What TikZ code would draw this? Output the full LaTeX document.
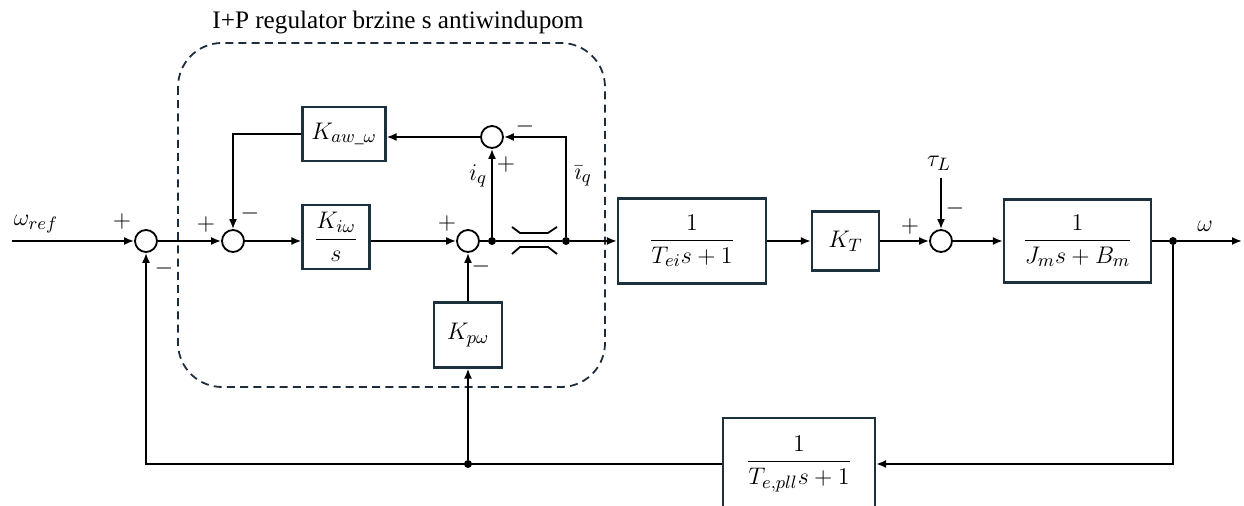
\documentclass[tikz,border=0pt]{standalone}
\usepackage{fontspec}
\setmainfont{Liberation Serif}
\usepackage{amsmath}
\usetikzlibrary{arrows.meta,calc}
\definecolor{boxc}{RGB}{28,48,62}
\definecolor{dashc}{RGB}{30,45,62}
\begin{document}
\begin{tikzpicture}[x=0.5pt,y=-0.5pt,
  blk/.style={draw=boxc, line width=1.1pt, fill=white, inner sep=0pt, font=\fontsize{12.5}{14}\selectfont},
  sumc/.style={circle, draw, line width=0.9pt, minimum size=11pt, inner sep=0pt},
  jdot/.style={circle, fill, inner sep=0pt, minimum size=4pt},
  conn/.style={line width=0.9pt},
  arr/.style={conn, -{Latex[length=5pt,width=4pt]}},
  sgn/.style={font=\fontsize{12}{14}\selectfont, inner sep=0pt},
  lbl/.style={font=\fontsize{13}{15}\selectfont, inner sep=0pt},
  regbox/.style={draw=dashc, line width=0.9pt, dash pattern=on 4pt off 2.6pt, rounded corners=22pt}]
\useasboundingbox (0,0) rectangle (1244,506);
\clip (0,0) rectangle (1244,506);

% regulator frame
\draw[regbox] (178,43) rectangle (605,387);
\node[font=\fontsize{12.6}{14}\selectfont, inner sep=0pt] (title) at (398,22) {I+P regulator brzine s antiwindupom};

% blocks
\node[blk, minimum width=41.5pt, minimum height=27pt] (kaw) at (344,134) {$K_{aw\_\omega}$};
\node[blk, minimum width=33.5pt, minimum height=32pt] (ki) at (336,237) {$\dfrac{K_{i\omega}}{s}$};
\node[blk, minimum width=34pt, minimum height=32.5pt] (kp) at (468,335) {$K_{p\omega}$};
\node[blk, minimum width=74pt, minimum height=42.5pt] (tei) at (692,241) {$\dfrac{1}{T_{ei}s+1}$};
\node[blk, minimum width=33.5pt, minimum height=29.5pt] (kt) at (845.5,241) {$K_T$};
\node[blk, minimum width=73.5pt, minimum height=41.5pt] (jm) at (1077.5,241) {$\dfrac{1}{J_m s+B_m}$};
\node[blk, minimum width=76pt, minimum height=46pt] (tp) at (799,464) {$\dfrac{1}{T_{e,pll}s+1}$};

% summing junctions
\node[sumc] (s1) at (146,241) {};
\node[sumc] (s2) at (233,241) {};
\node[sumc] (s3) at (492,137) {};
\node[sumc] (s4) at (468,241) {};
\node[sumc] (s5) at (941,241) {};

% branch points
\node[jdot] (j1) at (492,241) {};
\node[jdot] (j2) at (566,241) {};
\node[jdot] (j3) at (1173,241) {};
\node[jdot] (j4) at (468,464) {};

\coordinate (win) at (12,241);
\coordinate (wout) at (1242,241);
\coordinate (tauin) at (941,178);

% connectors
\draw[arr] (win) -- (s1);
\draw[arr] (s1) -- (s2);
\draw[arr] (s2) -- (s2 -| ki.west);
\draw[arr] (ki.east |- s4) -- (s4);
\draw[conn] (s4) -- (j1) -- (j2);
\draw[arr] (j2) -- (j2 -| tei.west);
\draw[arr] (j1) -- (s3);
\draw[arr] (j2) |- (s3);
\draw[arr] (s3) -- (s3 -| kaw.east);
\draw[arr] (kaw.west) -| (s2);
\draw[arr] (j4) -- (kp);
\draw[arr] (kp) -- (s4);
\draw[arr] (tei) -- (kt);
\draw[arr] (kt) -- (s5);
\draw[arr] (s5) -- (jm);
\draw[conn] (jm) -- (j3);
\draw[arr] (j3) -- (wout);
\draw[arr] (tauin) -- (s5);
\draw[arr] (j3) |- (tp);
\draw[arr] (tp) -| (s1);

% saturation symbol
\draw[line width=0.9pt] (512,227) -- (520,233) -- (548,233) -- (557,227);
\draw[line width=0.9pt] (512,254) -- (520,247) -- (548,247) -- (557,254);

% signs
\node[sgn] at (122,222) {$+$};
\node[sgn] at (164,269) {$-$};
\node[sgn] at (206,225) {$+$};
\node[sgn] at (250,214) {$-$};
\node[sgn] at (506,165) {$+$};
\node[sgn] at (525,127) {$-$};
\node[sgn] at (447,224) {$+$};
\node[sgn] at (481,267) {$-$};
\node[sgn] at (910,227) {$+$};
\node[sgn] at (955,209) {$-$};

% labels
\node[lbl] at (36,224) {$\omega_{ref}$};
\node[lbl] at (1205,226) {$\omega$};
\node[lbl] at (939,163) {$\tau_L$};
\node[lbl] at (478,176) {$i_q$};
\node[lbl] at (583,176) {$\bar{\imath}_q$};
\end{tikzpicture}
\end{document}
